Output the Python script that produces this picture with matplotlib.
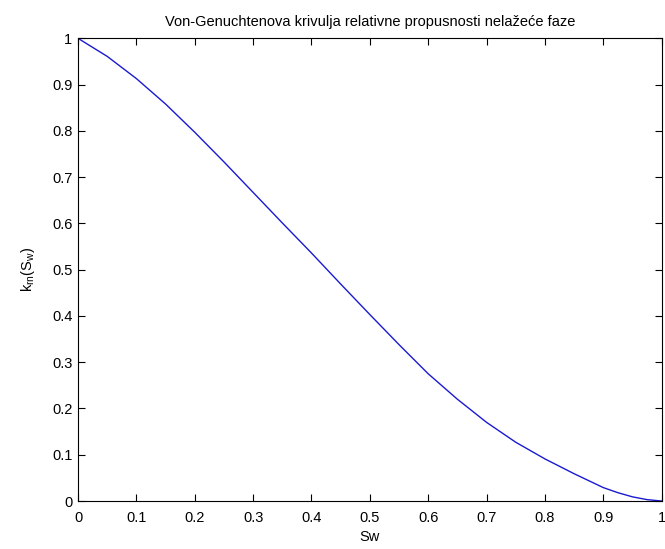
import matplotlib
matplotlib.use("Agg")
import matplotlib.pyplot as plt

# saturation of the wetting phase
sw = [0.0, 0.05, 0.1, 0.15, 0.2, 0.25, 0.3, 0.35, 0.4, 0.45, 0.5,
      0.55, 0.6, 0.65, 0.7, 0.75, 0.8, 0.85, 0.9, 0.925, 0.95, 0.975, 1.0]
# relative permeability of the non-wetting phase
krn = [1.0, 0.961, 0.913, 0.858, 0.797, 0.733, 0.667, 0.601, 0.536, 0.469, 0.403,
       0.338, 0.275, 0.220, 0.170, 0.127, 0.091, 0.059, 0.029, 0.018, 0.009, 0.003, 0.0]

tick_vals = [0, 0.1, 0.2, 0.3, 0.4, 0.5, 0.6, 0.7, 0.8, 0.9, 1]
tick_labels = ["0", "0.1", "0.2", "0.3", "0.4", "0.5", "0.6", "0.7", "0.8", "0.9", "1"]


def main():
    plt.rcParams["font.family"] = ["Liberation Sans", "DejaVu Sans"]
    plt.rcParams["mathtext.fontset"] = "custom"
    plt.rcParams["mathtext.rm"] = "Liberation Sans"
    plt.rcParams["mathtext.it"] = "Liberation Sans"

    fig = plt.figure(figsize=(6.65, 5.49), dpi=100)
    ax = fig.add_axes([0.1173, 0.0874, 0.8777, 0.8428])
    ax.plot(sw, krn, color="#1a1ad0", lw=1.0)

    ax.set_xlim(0, 1)
    ax.set_ylim(0, 1)
    ax.set_xticks(tick_vals)
    ax.set_xticklabels(tick_labels)
    ax.set_yticks(tick_vals)
    ax.set_yticklabels(tick_labels)
    ax.tick_params(direction="in", length=5, width=0.8, top=True, right=True,
                   labelsize=10.5)
    ax.tick_params(axis="x", pad=7.5)
    ax.tick_params(axis="y", pad=4)
    for s in ax.spines.values():
        s.set_linewidth(0.8)

    ax.set_title("Von-Genuchtenova krivulja relativne propusnosti nelažeće faze",
                 fontsize=10.5, pad=9)
    ax.set_xlabel("Sw", fontsize=10.5, labelpad=3)
    ax.set_ylabel(r"$\mathregular{k_{rn}(S_w)}$", fontsize=10.5, labelpad=11)

    fig.savefig("out.png", dpi=100)


if __name__ == "__main__":
    main()
